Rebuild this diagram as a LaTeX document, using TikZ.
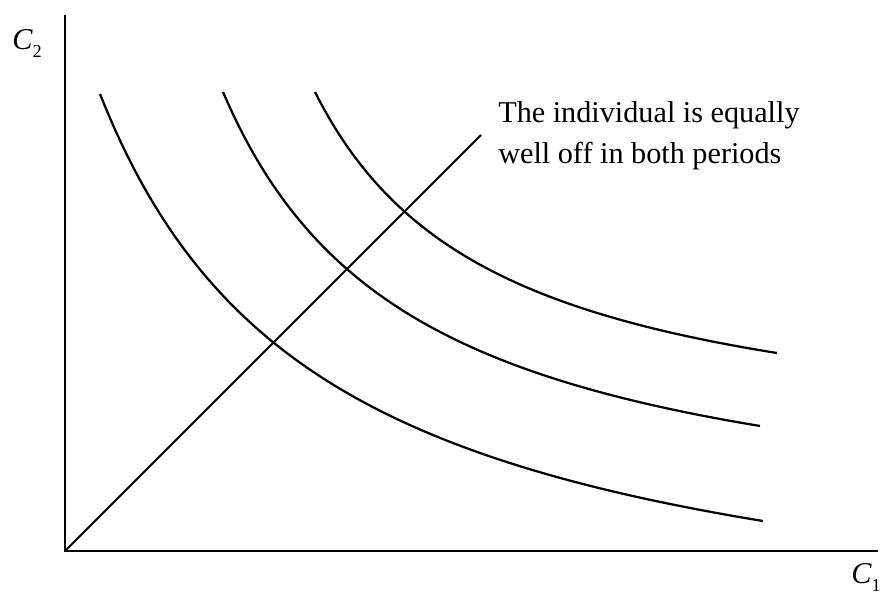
\documentclass[tikz,border=0pt]{standalone}
\usepackage{fontspec}
\setmainfont{Liberation Serif}
\usepackage{tikz}
\newcommand{\lowsub}[1]{\raisebox{-0.24em}{\fontsize{13}{13}\selectfont #1}}

\begin{document}
\begin{tikzpicture}[
  axis/.style={line width=1.9pt},
  curve/.style={line width=1.6pt},
  lbl/.style={inner sep=0pt,anchor=base west,font=\fontsize{21.5}{29}\selectfont}]
\useasboundingbox (-1.625,-1.075) rectangle (20.45,13.775);
\coordinate (O) at (0,0);
\coordinate (ytop) at (0,13.4);
\coordinate (xend) at (20.325,0);
\coordinate (diagend) at (10.4,10.4);
\draw[axis] (ytop)--(O)--(xend);
\node[lbl] (c2) at (-1.325,12.525) {\textit{C}\lowsub{2}};
\node[lbl] (c1) at (19.65,-0.82) {\textit{C}\lowsub{1}};
% the three indifference curves
\draw[curve] plot[domain=0.875:17.45,samples=100] (\x,{80.97/(\x+4.78)-2.8925});
\draw[curve] plot[domain=3.95:17.375,samples=100] (\x,{55.31/(\x+0.9125)+0.1008});
\draw[curve] plot[domain=6.25:17.8,samples=100] (\x,{41.82/(\x-1.6625)+2.358});
\draw[line width=1.3pt] (O)--(diagend);
\node[lbl] (note1) at (10.825,10.71) {The individual is equally};
\node[lbl] (note2) at (10.825,9.69) {well off in both periods};
\end{tikzpicture}
\end{document}
